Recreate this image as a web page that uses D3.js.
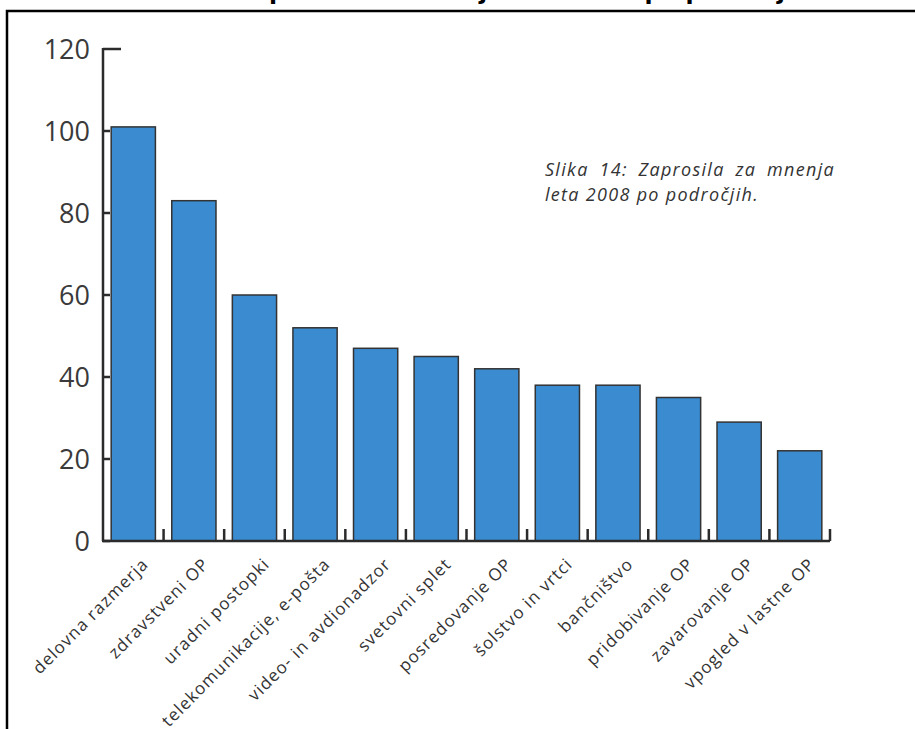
<!DOCTYPE html>
<html>
<head>
<meta charset="utf-8">
<script src="https://cdn.jsdelivr.net/npm/d3@7"></script>
<style>
  body { margin: 0; background: #fff; }
  svg { display: block; }
</style>
</head>
<body>
<div id="chart"></div>
<script>
const categories = [
  "delovna razmerja", "zdravstveni OP", "uradni postopki", "telekomunikacije, e-pošta",
  "video- in avdionadzor", "svetovni splet", "posredovanje OP", "šolstvo in vrtci",
  "bančništvo", "pridobivanje OP", "zavarovanje OP", "vpogled v lastne OP"
];
const values = [101, 83, 60, 52, 47, 45, 42, 38, 38, 35, 29, 22];
const yTicks = [0, 20, 40, 60, 80, 100, 120];
const titleText = "Zaprosila za mnenja leta 2008 po področjih";
const captionLines = ["Slika 14: Zaprosila za mnenja", "leta 2008 po področjih."];

const width = 915, height = 729;
const svg = d3.select("#chart").append("svg")
  .attr("width", width).attr("height", height);

// title, mostly cut off at the top of the picture (as in the original)
svg.append("text")
  .attr("x", 236).attr("y", -1)
  .attr("textLength", 574).attr("lengthAdjust", "spacingAndGlyphs")
  .style("font-family", "DejaVu Sans").style("font-weight", "bold")
  .style("font-size", "24px").style("fill", "#000")
  .text(titleText);

// frame
svg.append("path")
  .attr("d", `M7,${height} V11 H${width}`)
  .attr("fill", "none").attr("stroke", "#000").attr("stroke-width", 2.5);

const x = d3.scaleBand().domain(categories).range([103, 830])
  .paddingInner(0.27).paddingOuter(0.135);
const y = d3.scaleLinear().domain([0, 120]).range([541, 49]);

// bars
svg.selectAll("rect.bar")
  .data(values)
  .join("rect")
  .attr("class", "bar")
  .attr("x", (d, i) => x(categories[i]))
  .attr("y", (d) => y(d))
  .attr("width", x.bandwidth())
  .attr("height", (d) => y(0) - y(d))
  .attr("fill", "#3a8bd0")
  .attr("stroke", "#333")
  .attr("stroke-width", 1.5);

const axisColor = "#2b2b2b";

// y axis line and inward ticks
svg.append("line")
  .attr("x1", 103).attr("x2", 103).attr("y1", y(120) - 1).attr("y2", y(0))
  .attr("stroke", axisColor).attr("stroke-width", 2.5);
svg.selectAll("line.ytick")
  .data(yTicks)
  .join("line")
  .attr("class", "ytick")
  .attr("x1", 103)
  .attr("x2", (d) => (d === 120 ? 121 : 110))
  .attr("y1", (d) => y(d)).attr("y2", (d) => y(d))
  .attr("stroke", axisColor).attr("stroke-width", 2.5);
svg.selectAll("text.ylab")
  .data(yTicks)
  .join("text")
  .attr("class", "ylab")
  .attr("x", 90).attr("y", (d) => y(d))
  .attr("dy", "0.36em")
  .attr("text-anchor", "end")
  .style("font-family", "Open Sans").style("font-size", "27px")
  .style("fill", "#3a3a3a")
  .text((d) => d);

// x axis line, boundary ticks pointing up
const step = x.step();
const bounds = d3.range(categories.length).map((i) => x(categories[i]) + x.bandwidth() + (step - x.bandwidth()) / 2);
svg.append("line")
  .attr("x1", 102).attr("x2", 830).attr("y1", y(0)).attr("y2", y(0))
  .attr("stroke", axisColor).attr("stroke-width", 2.5);
svg.selectAll("line.xtick")
  .data(bounds)
  .join("line")
  .attr("class", "xtick")
  .attr("x1", (d) => d).attr("x2", (d) => d)
  .attr("y1", y(0)).attr("y2", y(0) - 12)
  .attr("stroke", axisColor).attr("stroke-width", 2.5);

// rotated category labels
svg.selectAll("text.xlab")
  .data(categories)
  .join("text")
  .attr("class", "xlab")
  .attr("transform", (d) => `translate(${x(d) + x.bandwidth() / 2 + 12},${y(0) + 20}) rotate(-45)`)
  .attr("text-anchor", "end")
  .attr("dy", "0.35em")
  .style("font-family", "Open Sans").style("font-size", "17px")
  .style("letter-spacing", "1.1px")
  .style("fill", "#333")
  .text((d) => d);

// caption inside plot, first line justified
const caption = svg.selectAll("text.caption")
  .data(captionLines)
  .join("text")
  .attr("class", "caption")
  .attr("x", 545)
  .attr("y", (d, i) => 176 + i * 25)
  .style("font-family", "Open Sans").style("font-style", "italic")
  .style("font-size", "18px").style("letter-spacing", "1.3px")
  .style("fill", "#333")
  .text((d) => d);
caption.filter((d, i) => i === 0).each(function (d) {
  const len = this.getComputedTextLength();
  const gaps = d.split(" ").length - 1;
  d3.select(this).style("word-spacing", `${Math.max(0, (290 - len) / gaps)}px`);
});
</script>
</body>
</html>
